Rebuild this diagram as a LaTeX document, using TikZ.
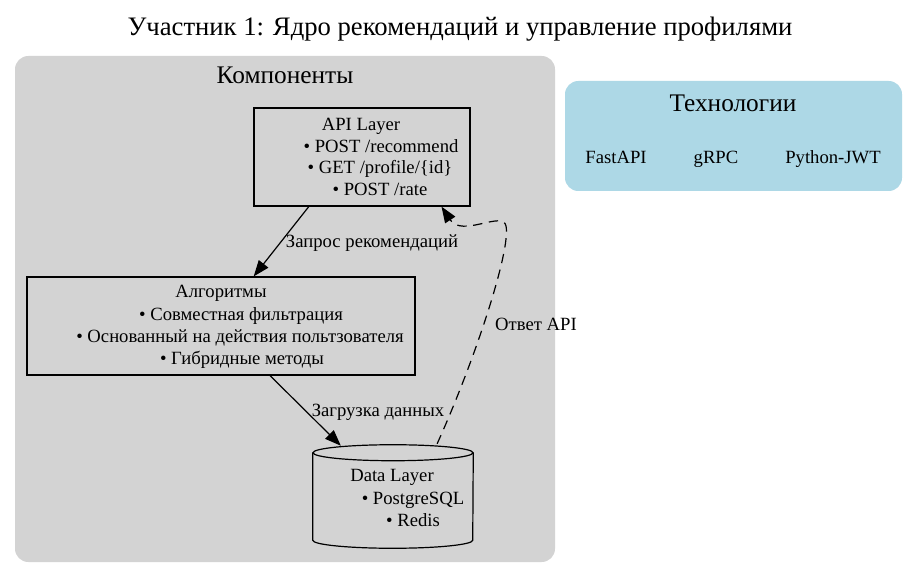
\documentclass[tikz,border=0pt]{standalone}
\usepackage{fontspec}
\setmainfont{Liberation Serif}
\usetikzlibrary{arrows.meta,calc}
\definecolor{clgray}{HTML}{D3D3D3}
\definecolor{clblue}{HTML}{ADD8E6}
\begin{document}
\begin{tikzpicture}[x=0.75pt,y=-0.75pt,
  txt/.style={anchor=base,inner sep=0pt,font=\fontsize{14}{16}\selectfont},
  bigtxt/.style={anchor=base,inner sep=0pt,font=\fontsize{19}{22}\selectfont},
  titletxt/.style={anchor=base,inner sep=0pt,font=\fontsize{20}{24}\selectfont},
  cluster/.style={rounded corners=10pt,draw=none},
  box/.style={draw=black,line width=0.9pt,inner sep=0pt},
  edge/.style={line width=0.9pt,-{Triangle[length=12pt,width=9pt]}},
  elabel/.style={anchor=base,inner sep=0pt,font=\fontsize{14}{16}\selectfont}]
\useasboundingbox (0,0) rectangle (917,577);
\fill[white] (0,0) rectangle (917,577);
% title
\node[titletxt] (title) at (460,36) {Участник 1: Ядро рекомендаций и управление профилями};
% clusters
\fill[clgray,cluster] (15,56) rectangle (555,562);
\node[bigtxt] (comp) at (285,84) {Компоненты};
\fill[clblue,cluster] (565,81) rectangle (902,191);
\node[bigtxt] (tech) at (733,112) {Технологии};
\node[txt] (fastapi) at (616,164) {FastAPI};
\node[txt] (grpc) at (716,164) {gRPC};
\node[txt] (jwt) at (833,164) {Python-JWT};
% API box
\node[box,minimum width=216*0.75pt,minimum height=98*0.75pt] (api) at (362,157) {};
\node[txt] (api1) at (361,131) {API Layer};
\node[txt] (api2) at (381,152.5) {• POST /recommend};
\node[txt] (api3) at (380,174) {• GET /profile/\{id\}};
\node[txt] (api4) at (380,196) {• POST /rate};
% Algo box
\node[box,minimum width=388*0.75pt,minimum height=98*0.75pt] (algo) at (221,326) {};
\node[txt] (al1) at (221,297) {Алгоритмы};
\node[txt] (al2) at (241,320.5) {• Совместная фильтрация};
\node[txt] (al3) at (240,342) {• Основанный на действия польтзователя};
\node[txt] (al4) at (242,364) {• Гибридные методы};
% Data cylinder
\node[inner sep=0pt,minimum width=160*0.75pt,minimum height=103*0.75pt] (data) at (393,496.5) {};
\draw[line width=0.9pt] (data.north west) ++(0,8) -- ($(data.south west)+(0,-8)$)
  arc[start angle=180,end angle=360,x radius=80,y radius=-8] -- ($(data.north east)+(0,8)$);
\draw[line width=0.9pt] ($(data.north)+(0,8)$) ellipse[x radius=80,y radius=8];
\node[txt] (d1) at (392,481.5) {Data Layer};
\node[txt] (d2) at (413,504) {• PostgreSQL};
\node[txt] (d3) at (413,526) {• Redis};
% edges
\draw[edge] ($(api.south west)!0.255!(api.south east)$) -- ($(algo.north west)!0.584!(algo.north east)$);
\node[elabel] (l1) at (372,247.5) {Запрос рекомендаций};
\draw[edge] ($(algo.south west)!0.626!(algo.south east)$) -- ($(data.north west)!0.175!(data.north east)+(0,1)$);
\node[elabel] (l2) at (378,416) {Загрузка данных};
\draw[edge,dashed,dash pattern=on 7pt off 5pt] ($(data.north west)!0.775!(data.north east)+(0,-1)$)
  .. controls (475,360) and (511,250) .. (506,226)
  .. controls (503,210) and (462,238) .. ($(api.south west)!0.866!(api.south east)$);
\node[elabel] (l3) at (536,330.5) {Ответ API};
\end{tikzpicture}
\end{document}
